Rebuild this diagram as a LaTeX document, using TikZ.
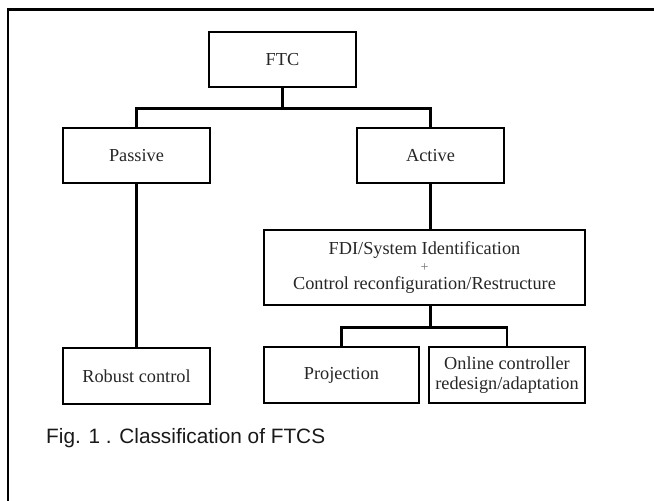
\documentclass[tikz,border=0pt]{standalone}
\usepackage{fontspec}
\setmainfont{Liberation Serif}
\newfontfamily\captionFont{Liberation Sans}
\newcommand{\boxLine}[0]{2.6pt}

\begin{document}
\begin{tikzpicture}[x=1pt, y=-1pt]
  \tikzset{ftcbox/.style={draw, line width=\boxLine, inner sep=0pt, align=center,
             minimum width=147pt, minimum height=55pt, text=black!85,
             font=\fontsize{18.3}{20}\selectfont},
           link/.style={line width=\boxLine}}
  \clip (0,0) rectangle (654,501);
  \draw[line width=2.2pt] (8,9.5) rectangle (700,540);
  % tree boxes
  \node[ftcbox] (ftc) at (282.5,59.5) {FTC};
  \node[ftcbox] (passive) at (136.5,155.5) {Passive};
  \node[ftcbox] (active) at (430.5,155.5) {Active};
  \node[ftcbox, minimum width=321pt, minimum height=75pt,
        font=\fontsize{18.3}{17.5}\selectfont] (fdi) at (424.5,267.5)
        {FDI/System Identification\\{\fontsize{14}{14}\selectfont\color{black!55}+}\\Control reconfiguration/Restructure};
  \node[ftcbox, minimum height=56pt] (robust) at (136.5,376) {Robust control};
  \node[ftcbox, minimum width=155pt, minimum height=56pt] (proj) at (341.5,375) {Projection};
  \node[ftcbox, minimum width=156pt, minimum height=56pt] (online) at (507,375)
        {Online controller\\redesign/adaptation};
  % connectors
  \draw[link] (ftc.south) -- ++(0,20) coordinate (split1);
  \draw[link] (passive.north) |- (split1) -| (active.north);
  \draw[link] (passive.south) -- (robust.north);
  \draw[link] (active.south) -- (active.south |- fdi.north);
  \draw[link] (fdi.south -| active.south) -- ++(0,21) coordinate (split2);
  \draw[link] (proj.north) |- (split2) -| (online.north);
  % caption
  \node[anchor=west, inner sep=0pt, text=black!90, font=\captionFont\fontsize{20.8}{24}\selectfont]
        (caption) at (46,438) {Fig. 1 . Classification of FTCS};
\end{tikzpicture}
\end{document}
